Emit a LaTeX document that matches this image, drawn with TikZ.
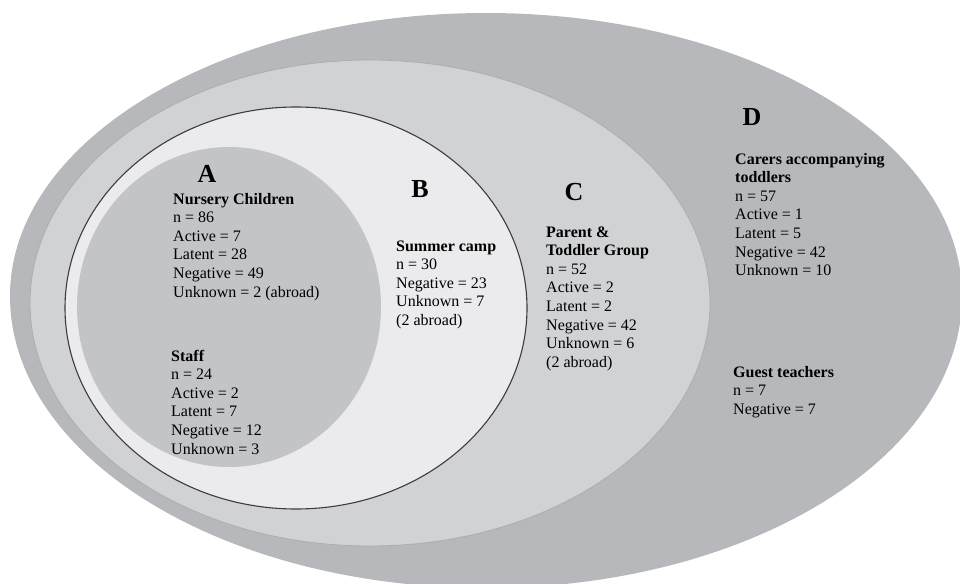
\documentclass[tikz,border=0pt]{standalone}
\usepackage{fontspec}
\setmainfont{Liberation Serif}
\definecolor{dfill}{RGB}{183,184,187}
\definecolor{cfill}{RGB}{209,210,212}
\definecolor{cline}{RGB}{172,173,176}
\definecolor{bfill}{RGB}{235,235,237}
\definecolor{bline}{RGB}{60,60,62}
\definecolor{afill}{RGB}{195,196,199}
\begin{document}
\begin{tikzpicture}[x=1pt,y=-1pt,
  txt/.style={anchor=base west,inner sep=0pt,font=\fontsize{16}{18.6}\selectfont,text=black},
  letter/.style={anchor=base,inner sep=0pt,font=\fontsize{26}{30}\selectfont\bfseries}]
\useasboundingbox (0,0) rectangle (960,583);
% region D (slightly egg-shaped)
\fill[dfill] (10,296) arc[start angle=180,end angle=0,x radius=476,y radius=292]
  arc[start angle=0,end angle=-180,x radius=476,y radius=283] -- cycle;
% regions C, B, A
\filldraw[fill=cfill,draw=cline,line width=0.8pt] (370,303) ellipse [x radius=340, y radius=243];
\filldraw[fill=bfill,draw=bline,line width=1.1pt] (296,308) ellipse [x radius=231, y radius=201];
\fill[afill] (229,307) ellipse [x radius=152, y radius=160];
% letters
\node[letter] (la) at (207,182) {A};
\node[letter] (lb) at (420,197) {B};
\node[letter] (lc) at (574,200) {C};
\node[letter] (ld) at (752,125) {D};
% texts
\node[txt] (nursery) at (173,204) {\begin{tabular}[t]{@{}l@{}}\textbf{Nursery Children}\\ n = 86\\ Active = 7\\ Latent = 28\\ Negative = 49\\ Unknown = 2 (abroad)\end{tabular}};
\node[txt] (staff) at (171,361) {\begin{tabular}[t]{@{}l@{}}\textbf{Staff}\\ n = 24\\ Active = 2\\ Latent = 7\\ Negative = 12\\ Unknown = 3\end{tabular}};
\node[txt] (summer) at (396,251) {\begin{tabular}[t]{@{}l@{}}\textbf{Summer camp}\\ n = 30\\ Negative = 23\\ Unknown = 7\\ (2 abroad)\end{tabular}};
\node[txt] (parent) at (546,237) {\begin{tabular}[t]{@{}l@{}}\textbf{Parent \&}\\ \textbf{Toddler Group}\\ n = 52\\ Active = 2\\ Latent = 2\\ Negative = 42\\ Unknown = 6\\ (2 abroad)\end{tabular}};
\node[txt] (carers) at (735,164) {\begin{tabular}[t]{@{}l@{}}\textbf{Carers accompanying}\\ \textbf{toddlers}\\ n = 57\\ Active = 1\\ Latent = 5\\ Negative = 42\\ Unknown = 10\end{tabular}};
\node[txt] (guest) at (733,377) {\begin{tabular}[t]{@{}l@{}}\textbf{Guest teachers}\\ n = 7\\ Negative = 7\end{tabular}};
\end{tikzpicture}
\end{document}
